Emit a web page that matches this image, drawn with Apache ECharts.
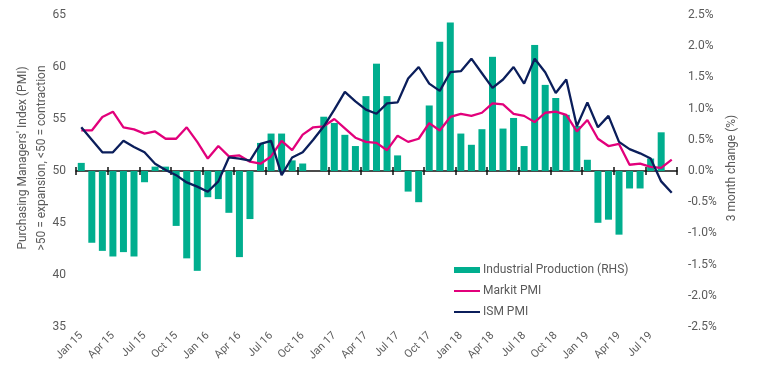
<!DOCTYPE html>
<html><head><meta charset="utf-8">
<script src="https://cdn.jsdelivr.net/npm/echarts@6/dist/echarts.min.js"></script>
<style>html,body{margin:0;padding:0;background:#fff}#c{width:757px;height:379px}</style>
</head><body><div id="c"></div>
<script>
const categories = [
 'Jan 15','Feb 15','Mar 15','Apr 15','May 15','Jun 15','Jul 15','Aug 15','Sep 15','Oct 15','Nov 15','Dec 15',
 'Jan 16','Feb 16','Mar 16','Apr 16','May 16','Jun 16','Jul 16','Aug 16','Sep 16','Oct 16','Nov 16','Dec 16',
 'Jan 17','Feb 17','Mar 17','Apr 17','May 17','Jun 17','Jul 17','Aug 17','Sep 17','Oct 17','Nov 17','Dec 17',
 'Jan 18','Feb 18','Mar 18','Apr 18','May 18','Jun 18','Jul 18','Aug 18','Sep 18','Oct 18','Nov 18','Dec 18',
 'Jan 19','Feb 19','Mar 19','Apr 19','May 19','Jun 19','Jul 19','Aug 19','Sep 19'];
const industrialProduction = [
 0.13,-1.15,-1.28,-1.37,-1.30,-1.37,-0.18,0.07,0.07,-0.88,-1.40,-1.60,
 -0.42,-0.45,-0.67,-1.38,-0.77,0.45,0.60,0.60,0.17,0.12,0,0.87,
 0.77,0.58,0.40,1.20,1.72,1.20,0.25,-0.33,-0.50,1.05,2.07,2.38,
 0.60,0.42,0.67,1.83,0.68,0.85,0.40,2.02,1.38,1.17,0.90,0.72,
 0.18,-0.83,-0.78,-1.02,-0.28,-0.28,0.20,0.62,null];
const markitPMI = [
 53.9,53.9,55.2,55.7,54.2,54.0,53.6,53.8,53.1,53.1,54.2,52.8,
 51.2,52.4,51.4,51.5,50.9,50.7,51.4,52.9,52.0,53.5,54.2,54.3,
 55.0,54.1,53.2,52.8,52.7,52.0,53.4,52.8,53.1,54.6,53.9,55.2,
 55.5,55.3,55.6,56.5,56.4,55.5,55.3,54.7,55.6,55.7,55.4,53.8,
 54.9,53.1,52.4,52.6,50.6,50.7,50.4,50.3,51.1];
const ismPMI = [
 54.2,53.0,51.8,51.8,52.9,52.3,51.8,50.7,50.1,49.6,48.9,48.5,
 48.0,49.0,51.3,51.2,51.0,52.6,52.9,49.6,51.3,51.8,53.0,54.3,
 55.9,57.6,56.7,55.9,55.5,56.5,56.6,58.9,60.0,58.4,57.7,59.5,
 59.6,60.8,59.4,58.0,58.8,60.0,58.4,60.8,59.5,57.5,58.8,54.3,
 56.6,54.2,55.3,52.8,52.1,51.7,51.2,49.0,47.9];
const leftTitle = ["Purchasing Managers' Index (PMI)", ">50 = expansion, <50 = contraction"];
const rightTitle = '3 month change (%)';

const FONT = 'Roboto, "Liberation Sans", sans-serif';
const GRAY = '#5a5a5a';
const chart = echarts.init(document.getElementById('c'), null, {renderer: 'canvas'});
const baseX = {
  type: 'category', data: categories, boundaryGap: true,
  axisLine: {show: false}, axisTick: {show: false}, axisLabel: {show: false}, splitLine: {show: false}
};
chart.setOption({
  animation: false,
  textStyle: {fontFamily: FONT},
  grid: {left: 76, right: 80, top: 15, bottom: 52, containLabel: false},
  xAxis: [
    Object.assign({}, baseX, {
      position: 'bottom',
      axisLabel: {show: true, interval: 2, rotate: 45, color: GRAY, fontSize: 11, fontFamily: FONT, margin: 7}
    }),
    Object.assign({}, baseX, {
      axisLine: {show: true, onZero: true, onZeroAxisIndex: 1, lineStyle: {color: '#111', width: 1.5}},
      axisTick: {show: true, interval: 2, length: 4, lineStyle: {color: '#111', width: 1.5}}
    }),
    Object.assign({}, baseX, {
      axisLine: {show: false, onZero: true, onZeroAxisIndex: 1},
      axisTick: {show: true, inside: true, interval: 2, length: 4, lineStyle: {color: '#111', width: 1.5}}
    })
  ],
  yAxis: [
    {type: 'value', min: 35, max: 65, interval: 5, position: 'left',
     axisLine: {show: false}, axisTick: {show: false}, splitLine: {show: false},
     axisLabel: {color: GRAY, fontSize: 12, fontFamily: FONT, margin: 10}},
    {type: 'value', min: -2.5, max: 2.5, interval: 0.5, position: 'right',
     axisLine: {show: false}, axisTick: {show: false}, splitLine: {show: false},
     axisLabel: {color: GRAY, fontSize: 12, fontFamily: FONT, margin: 11,
       formatter: v => v.toFixed(1) + '%'}}
  ],
  legend: [
    {data: [{name: 'Industrial Production (RHS)', icon: 'rect'}], left: 449, top: 259,
     itemWidth: 26, itemHeight: 6, itemGap: 9,
     textStyle: {color: GRAY, fontSize: 12, fontFamily: FONT, padding: [0,0,0,-2]}},
    {data: [{name: 'Markit PMI', icon: 'rect'}, {name: 'ISM PMI', icon: 'rect'}], orient: 'vertical',
     left: 449, top: 280, itemWidth: 26, itemHeight: 2, itemGap: 9,
     textStyle: {color: GRAY, fontSize: 12, fontFamily: FONT, padding: [0,0,0,-2]}}
  ],
  graphic: [
    {type: 'text', x: 32, y: 158, rotation: Math.PI / 2,
     style: {text: leftTitle.join('\n'), align: 'center', verticalAlign: 'middle', fill: GRAY,
       font: '12px ' + FONT, lineHeight: 19}},
    {type: 'text', x: 732, y: 168, rotation: Math.PI / 2,
     style: {text: rightTitle, align: 'center', verticalAlign: 'middle', fill: GRAY, font: '12px ' + FONT}}
  ],
  series: [
    {name: 'Industrial Production (RHS)', type: 'bar', xAxisIndex: 0, yAxisIndex: 1,
     data: industrialProduction, barWidth: 7, itemStyle: {color: '#00AE8E'}, z: 1},
    {name: 'Markit PMI', type: 'line', xAxisIndex: 0, yAxisIndex: 0, data: markitPMI,
     showSymbol: false, symbol: 'none', lineStyle: {color: '#E2007B', width: 2.3}, itemStyle: {color: '#E2007B'}, z: 3},
    {name: 'ISM PMI', type: 'line', xAxisIndex: 0, yAxisIndex: 0, data: ismPMI,
     showSymbol: false, symbol: 'none', lineStyle: {color: '#0B1E5B', width: 2.3}, itemStyle: {color: '#0B1E5B'}, z: 4}
  ]
});
</script></body></html>
